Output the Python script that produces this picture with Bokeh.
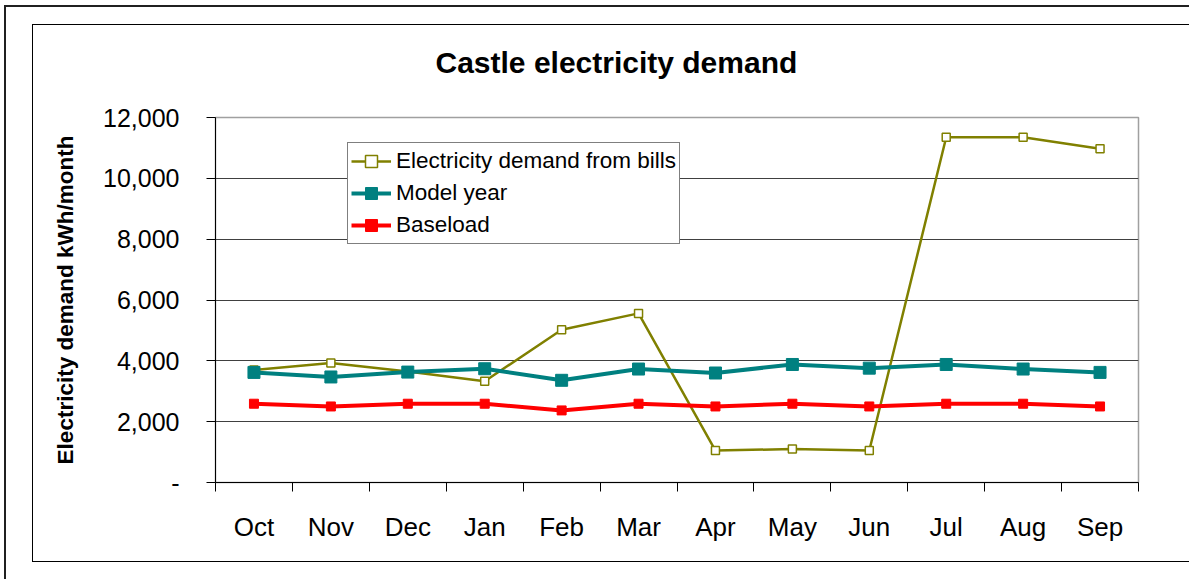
from bokeh.plotting import figure
from bokeh.models import (Range1d, FixedTicker, NumeralTickFormatter, Legend, LegendItem,
                          ColumnDataSource, InlineStyleSheet)
from bokeh.embed import file_html
from bokeh.resources import INLINE

# ---- data ----
months = ["Oct", "Nov", "Dec", "Jan", "Feb", "Mar", "Apr", "May", "Jun", "Jul", "Aug", "Sep"]
bills = [3700, 3930, 3650, 3330, 5020, 5560, 1050, 1100, 1050, 11350, 11350, 10970]
model_year = [3620, 3470, 3630, 3740, 3360, 3730, 3600, 3880, 3760, 3880, 3730, 3620]
baseload = [2590, 2500, 2590, 2590, 2370, 2590, 2500, 2590, 2500, 2590, 2590, 2500]
y_ticks = [0, 2000, 4000, 6000, 8000, 10000, 12000]

FONT = "Liberation Sans"

xpos = [i + 0.5 for i in range(len(months))]
src = ColumnDataSource(dict(x=xpos, bills=bills, model=model_year, base=baseload))

p = figure(width=1189, height=579, output_backend="svg", toolbar_location=None,
           x_range=Range1d(0, len(months)), y_range=Range1d(0, 12000),
           min_border_left=215, min_border_right=51, min_border_top=117, min_border_bottom=97)
p.background_fill_color = "white"
p.border_fill_color = "white"
p.outline_line_color = "#a0a0a0"
p.outline_line_width = 1.5

# title
p.title.text = "Castle electricity demand"
p.title.text_font = FONT
p.title.text_font_style = "bold"
p.title.text_font_size = "30px"
p.title.text_color = "black"
p.title.align = "left"
p.title.offset = 220
p.title.vertical_align = "bottom"
p.title.standoff = 78

# grid
p.xgrid.visible = False
p.ygrid.ticker = FixedTicker(ticks=y_ticks)
p.ygrid.grid_line_color = "#404040"
p.ygrid.grid_line_width = 1

# y axis
ya = p.yaxis[0]
ya.ticker = FixedTicker(ticks=y_ticks)
ya.formatter = NumeralTickFormatter(format="0,0")
ya.major_label_overrides = {0: "-"}
ya.major_tick_out = 9
ya.major_tick_in = 0
ya.minor_tick_out = 0
ya.minor_tick_in = 0
ya.axis_line_color = "black"
ya.major_tick_line_color = "black"
ya.major_label_text_font = FONT
ya.major_label_text_font_size = "25px"
ya.major_label_text_color = "black"
ya.major_label_standoff = 27
ya.axis_label = "Electricity demand kWh/month"
ya.axis_label_text_font = FONT
ya.axis_label_text_font_style = "bold"
ya.axis_label_text_font_size = "22.5px"
ya.axis_label_text_color = "black"
ya.axis_label_standoff = 22

# x axis: labels at centers, ticks at category boundaries
xa = p.xaxis[0]
xa.ticker = FixedTicker(ticks=xpos, minor_ticks=list(range(len(months) + 1)))
xa.major_label_overrides = {x: m for x, m in zip(xpos, months)}
xa.major_tick_out = 0
xa.major_tick_in = 0
xa.minor_tick_out = 9
xa.minor_tick_in = 0
xa.minor_tick_line_color = "black"
xa.axis_line_color = "black"
xa.major_label_text_font = FONT
xa.major_label_text_font_size = "26px"
xa.major_label_text_color = "black"
xa.major_label_standoff = 20

# series
l1 = p.line("x", "bills", source=src, line_color="#808000", line_width=2.5)
s1 = p.scatter("x", "bills", source=src, marker="square", size=8,
               line_color="#808000", fill_color="white", line_width=1.5)
l2 = p.line("x", "model", source=src, line_color="#008080", line_width=4)
s2 = p.scatter("x", "model", source=src, marker="square", size=12,
               line_color="#008080", fill_color="#008080")
l3 = p.line("x", "base", source=src, line_color="#ff0000", line_width=4)
s3 = p.scatter("x", "base", source=src, marker="square", size=9,
               line_color="#ff0000", fill_color="#ff0000")

legend = Legend(items=[
    LegendItem(label="Electricity demand from bills", renderers=[l1, s1]),
    LegendItem(label="Model year", renderers=[l2, s2]),
    LegendItem(label="Baseload", renderers=[l3, s3]),
], location=(132, 238))
legend.label_text_font = FONT
legend.label_text_font_size = "22.5px"
legend.label_text_color = "black"
legend.glyph_width = 40
legend.glyph_height = 30
legend.label_height = 30
legend.label_standoff = 5
legend.spacing = 2
legend.padding = 3
legend.border_line_color = "black"
legend.border_line_width = 1
legend.background_fill_color = "white"
legend.background_fill_alpha = 1
p.add_layout(legend, "center")

# chart frames (outer and inner border of the chart object)
p.stylesheets = [InlineStyleSheet(css="""
:host { overflow: hidden; }
:host::before {
  content: ""; position: absolute; left: 4px; top: 5px; width: 1220px; height: 620px;
  border: 2px solid #202020; box-sizing: border-box; pointer-events: none; z-index: 100;
}
:host::after {
  content: ""; position: absolute; left: 32px; top: 24px; width: 1200px; height: 538px;
  border: 1.5px solid #000000; box-sizing: border-box; pointer-events: none; z-index: 100;
}
""")]

open("out.html", "w").write(file_html(p, INLINE))
